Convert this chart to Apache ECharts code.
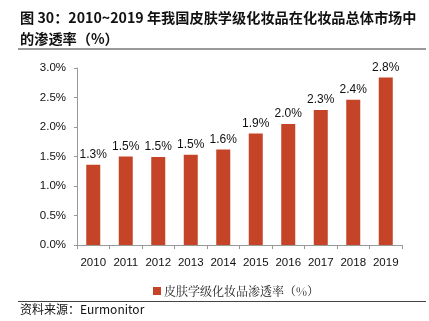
<!DOCTYPE html>
<html><head><meta charset="utf-8">
<script src="https://cdn.jsdelivr.net/npm/echarts@6/dist/echarts.min.js"></script>
<style>html,body{margin:0;padding:0;background:#fff}#c{width:429px;height:321px}</style>
</head><body><div id="c"></div>
<script>
const categories = ['2010','2011','2012','2013','2014','2015','2016','2017','2018','2019'];
const values = [1.36,1.50,1.49,1.53,1.62,1.89,2.05,2.29,2.46,2.84];
const valueLabels = ['1.3%','1.5%','1.5%','1.5%','1.6%','1.9%','2.0%','2.3%','2.4%','2.8%'];
const yTicks = [0,0.5,1.0,1.5,2.0,2.5,3.0];
const seriesName = '皮肤学级化妆品渗透率（%）';
const titleLines = ['图 30：2010~2019 年我国皮肤学级化妆品在化妆品总体市场中','的渗透率（%）'];
const sourceText = '资料来源：Eurmonitor';

const chart = echarts.init(document.getElementById('c'), null, {renderer:'canvas'});
chart.setOption({
  animation:false,
  backgroundColor:'#fff',
  graphic:[
    {type:'text', left:20, top:11, style:{text:titleLines[0], font:'bold 14.2px "Noto Sans CJK SC"', fill:'#111'}},
    {type:'text', left:20, top:32, style:{text:titleLines[1], font:'bold 14.2px "Noto Sans CJK SC"', fill:'#111'}},
    {type:'rect', shape:{x:18,y:48,width:408,height:2}, style:{fill:'#999'}},
    {type:'rect', shape:{x:18,y:301,width:408,height:1}, style:{fill:'#444'}},
    {type:'text', left:20, top:303, style:{text:sourceText, font:'12px "Noto Sans CJK SC"', fill:'#111'}}
  ],
  legend:{
    data:[seriesName], bottom:19, left:148, itemWidth:8, itemHeight:8, itemGap:4,
    icon:'rect',
    textStyle:{fontFamily:'"Noto Serif CJK SC","Noto Sans CJK SC"', fontSize:12, color:'#222', padding:[0,0,0,-2]}
  },
  grid:{left:77, right:27, top:68, bottom:76},
  xAxis:{
    type:'category', data:categories,
    axisLine:{lineStyle:{color:'#999'}},
    axisTick:{show:true, alignWithLabel:false, interval:0, length:4, lineStyle:{color:'#999'}},
    axisLabel:{interval:0, color:'#111', fontSize:11.5, fontFamily:'"Liberation Sans", Arial', margin:12, hideOverlap:false}
  },
  yAxis:{
    type:'value', min:0, max:3, interval:0.5,
    axisLine:{show:true, lineStyle:{color:'#999'}},
    axisTick:{show:true, length:3, lineStyle:{color:'#999'}},
    splitLine:{show:false},
    axisLabel:{color:'#111', fontSize:11.5, fontFamily:'"Liberation Sans", Arial', margin:11,
      formatter:v=>v.toFixed(1)+'%'}
  },
  series:[{
    name:seriesName, type:'bar', data:values, barWidth:14,
    itemStyle:{color:'#C54326'},
    label:{show:true, position:'top', distance:4, color:'#111', fontSize:12, fontFamily:'"Liberation Sans", Arial',
      formatter:p=>valueLabels[p.dataIndex]}
  }]
});
</script></body></html>
